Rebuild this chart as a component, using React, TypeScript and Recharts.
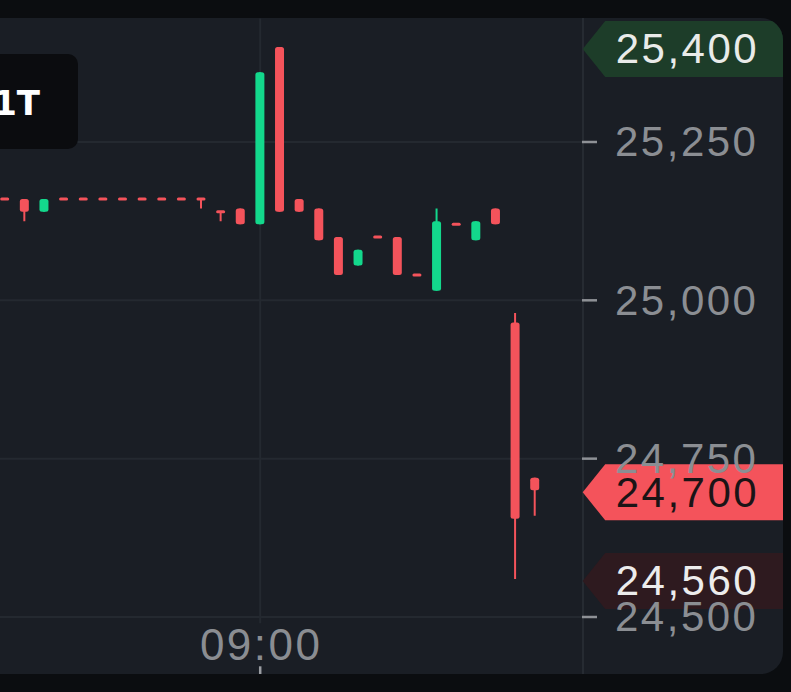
import { ComposedChart, Bar, XAxis, YAxis, CartesianGrid, ReferenceLine } from "recharts"

const times = [
  "08:47", "08:48", "08:49", "08:50", "08:51", "08:52", "08:53", "08:54", "08:55", "08:56",
  "08:57", "08:58", "08:59", "09:00", "09:01", "09:02", "09:03", "09:04", "09:05", "09:06",
  "09:07", "09:08", "09:09", "09:10", "09:11", "09:12", "09:13", "09:14", "09:15", "09:16",
]
const opens = [
  25160, 25160, 25140, 25160, 25160, 25160, 25160, 25160, 25160, 25160,
  25160, 25140, 25145, 25120, 25400, 25160, 25145, 25100, 25055, 25100,
  25100, 25040, 25015, 25120, 25095, 25145, 24965, 24720,
]
const closes = [
  25160, 25140, 25160, 25160, 25160, 25160, 25160, 25160, 25160, 25160,
  25160, 25140, 25120, 25360, 25140, 25140, 25095, 25040, 25080, 25100,
  25040, 25040, 25125, 25120, 25125, 25120, 24655, 24700,
]
const highs = [
  25160, 25160, 25160, 25160, 25160, 25160, 25160, 25160, 25160, 25160,
  25160, 25140, 25145, 25360, 25400, 25160, 25145, 25100, 25080, 25100,
  25100, 25040, 25145, 25120, 25125, 25145, 24980, 24720,
]
const lows = [
  25160, 25125, 25140, 25160, 25160, 25160, 25160, 25160, 25160, 25160,
  25145, 25125, 25120, 25120, 25140, 25140, 25095, 25040, 25055, 25100,
  25040, 25040, 25015, 25120, 25095, 25120, 24560, 24660,
]
const priceTicks = [24500, 24750, 25000, 25250]
const timeTicks = ["09:00"]
const sessionHigh = 25400
const lastPrice = 24700
const sessionLow = 24560

const UP = "#13d88c"
const DOWN = "#f4535b"
const FONT = "'Liberation Sans', Arial, sans-serif"
// plot area runs ~2px past the price-axis divider so candles line up
const SHIFT = -2.1

const data = times.map((time, i) => ({
  time,
  open: opens[i],
  close: closes[i],
  high: highs[i],
  low: lows[i],
  range: opens[i] == null ? null : [lows[i], highs[i]],
}))

const fmt = (v: number) => v.toLocaleString("en-US")

const Candle = (props: any) => {
  const { x, y, width, height, payload } = props
  if (!payload || payload.open == null) return null
  const { open, close, high, low } = payload
  const top0 = height < 0 ? y + height : y
  const span = high - low
  const k = span > 0 ? Math.abs(height) / span : 0
  const toY = (v: number) => top0 + (high - v) * k
  const color = close > open ? UP : DOWN
  const cx = x + width / 2
  let top = toY(Math.max(open, close))
  let h = Math.abs(toY(open) - toY(close))
  if (h < 3) {
    top -= (3 - h) / 2
    h = 3
  }
  return (
    <g>
      {span > 0 && (
        <line x1={cx} x2={cx} y1={toY(high)} y2={toY(low)} stroke={color} strokeWidth={2} />
      )}
      <rect x={x} y={top} width={width} height={h} rx={Math.min(2.5, h / 2)} fill={color} />
    </g>
  )
}

const PriceTick = (props: any) => {
  const { y, payload } = props
  const x = props.x + SHIFT
  return (
    <g>
      <line x1={x} x2={x + 15} y1={y} y2={y} stroke="#8e9196" strokeWidth={2.5} />
      <text x={x + 33} y={y + 14.5} fill="#8b8e93" fontSize={42} letterSpacing={2.5} fontFamily={FONT}>
        {fmt(payload.value)}
      </text>
    </g>
  )
}

const TimeTick = (props: any) => {
  const { x, y, payload } = props
  return (
    <g>
      <text x={x + 1} y={y + 37} fill="#8a8d92" fontSize={44} letterSpacing={2.5} textAnchor="middle" fontFamily={FONT}>
        {payload.value}
      </text>
      <line x1={x} x2={x} y1={y + 43} y2={y + 52} stroke="#9a9da2" strokeWidth={2.5} />
    </g>
  )
}

const PriceBadge = ({ viewBox, fill, color, value }: any) => {
  if (!viewBox) return null
  const left = viewBox.x + viewBox.width + SHIFT + 0.7
  const cy = viewBox.y + 2
  const d = `M${left},${cy} L${left + 22.5},${cy - 28} L800,${cy - 28} L800,${cy + 28} L${left + 22.5},${cy + 28} Z`
  return (
    <g>
      <path d={d} fill={fill} />
      <text x={left + 33} y={cy + 14.5} fill={color} fontSize={42} letterSpacing={2.5} fontFamily={FONT}>
        {fmt(value)}
      </text>
    </g>
  )
}

export default function App() {
  return (
    <div style={{ position: "fixed", left: 0, top: 0, width: 791, height: 692, background: "#0b0d10", overflow: "hidden" }}>
      <div
        style={{
          position: "absolute",
          left: -30,
          top: 18,
          width: 813,
          height: 656,
          background: "#1a1e25",
          borderRadius: 22,
          overflow: "hidden",
        }}
      >
        <div style={{ position: "absolute", left: 612, top: 0, width: 2, height: 656, background: "#262b32" }} />
        <div style={{ position: "absolute", left: 30, top: -18 }}>
          <ComposedChart width={791} height={692} data={data} margin={{ top: 18.5, right: SHIFT, bottom: 0, left: -4.8 }}>
            <CartesianGrid stroke="#242930" strokeWidth={2} horizontalValues={priceTicks} verticalValues={timeTicks} />
            <XAxis
              dataKey="time"
              ticks={timeTicks}
              interval={0}
              axisLine={false}
              tickLine={false}
              tickSize={0}
              tickMargin={0}
              height={68.7}
              tick={<TimeTick />}
            />
            <YAxis
              orientation="right"
              type="number"
              domain={[24490, 25445]}
              allowDataOverflow
              ticks={priceTicks}
              width={209}
              axisLine={false}
              tickLine={false}
              tickSize={0}
              tickMargin={0}
              tick={<PriceTick />}
            />
            <Bar dataKey="range" barSize={9} isAnimationActive={false} shape={(p: any) => <Candle {...p} />} />
            <ReferenceLine
              y={sessionHigh}
              stroke="none"
              label={(p: any) => <PriceBadge viewBox={p.viewBox} fill="#1d3d29" color="#e9ebe9" value={sessionHigh} />}
            />
            <ReferenceLine
              y={lastPrice}
              stroke="none"
              label={(p: any) => <PriceBadge viewBox={p.viewBox} fill="#f4535b" color="#1b1416" value={lastPrice} />}
            />
            <ReferenceLine
              y={sessionLow}
              stroke="none"
              label={(p: any) => <PriceBadge viewBox={p.viewBox} fill="#2e1a1f" color="#ececec" value={sessionLow} />}
            />
          </ComposedChart>
        </div>
        <div
          style={{
            position: "absolute",
            left: -10,
            top: 36,
            width: 117.7,
            height: 95.3,
            background: "#0b0c0f",
            borderRadius: 10,
          }}
        />
        <div
          style={{
            position: "absolute",
            left: 0,
            top: 68,
            width: 70,
            textAlign: "right",
            whiteSpace: "nowrap",
            color: "#ffffff",
            fontFamily: "'DejaVu Sans', sans-serif",
            fontWeight: 700,
            fontSize: 34,
            lineHeight: "34px",
          }}
        >
          1T
        </div>
      </div>
    </div>
  )
}
